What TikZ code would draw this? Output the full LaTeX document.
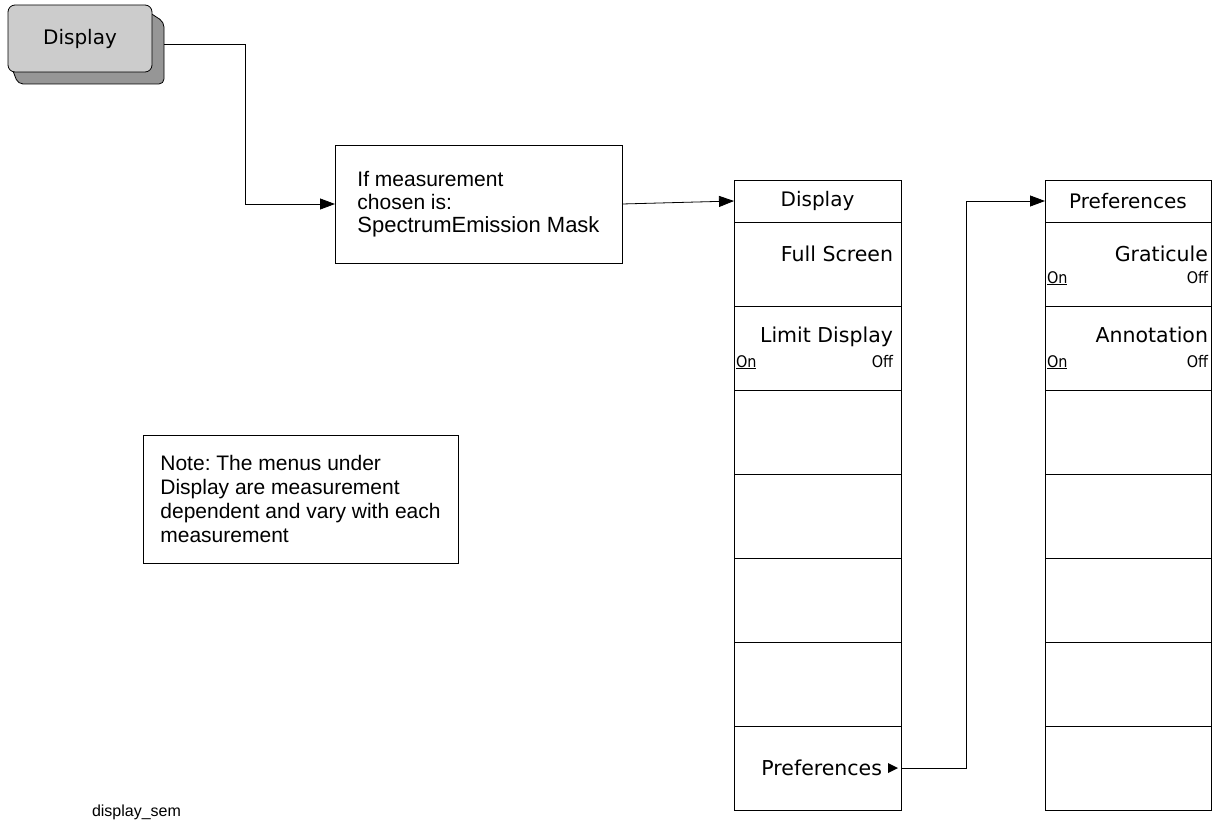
\documentclass[tikz,border=0pt]{standalone}
\usepackage{fontspec}
\setmainfont{Liberation Sans}
\newfontfamily\menufont{DejaVu Sans}
\newfontfamily\statefont{DejaVu Sans Condensed}
\usetikzlibrary{positioning,calc,arrows.meta}
\definecolor{keyface}{RGB}{204,204,204}
\definecolor{keyside}{RGB}{150,150,150}
\frenchspacing

\begin{document}
\begin{tikzpicture}[
    x=1pt, y=-1pt,
    every node/.style={inner sep=0pt, outer sep=0pt},
    hardkey/.style={rectangle, rounded corners=7pt, draw=black, fill=keyface, line width=0.8pt, minimum width=144pt, minimum height=67pt, font=\menufont\fontsize{20}{24}\selectfont},
    textbox/.style={rectangle, draw=black, line width=0.8pt, align=left, font=\fontsize{21}{23}\selectfont},
    menutitle/.style={rectangle, draw=black, line width=0.8pt, minimum width=167pt, minimum height=42pt, font=\menufont\fontsize{20}{24}\selectfont},
    softkey/.style={rectangle, draw=black, line width=0.8pt, minimum width=167pt, minimum height=84pt},
    keylabel/.style={anchor=base east, font=\menufont\fontsize{20.5}{24}\selectfont},
    stateon/.style={anchor=base west, font=\statefont\fontsize{16}{18}\selectfont},
    stateoff/.style={anchor=base east, font=\statefont\fontsize{16}{18}\selectfont},
    arrow/.style={line width=0.8pt, -{Triangle[length=15pt,width=11pt]}}
]
\useasboundingbox (0,0) rectangle (1212,824);

% Front panel key
\filldraw[fill=keyside, draw=black, line width=0.8pt, rounded corners=5pt] (138,5) -- (164,22) -- (164,84) -- (18,84) -- (8,58) -- cycle;
\node[hardkey] (key) at (80,38.5) {Display};

% Condition and note
\node[textbox, minimum width=287pt, minimum height=118pt] (cond) at (478.5,204) {If measurement\\chosen is:\\{\fontsize{22}{23}\selectfont SpectrumEmission Mask}};
\node[textbox, minimum width=315pt, minimum height=128pt, font=\fontsize{21}{24}\selectfont] (note) at (300.5,499) {Note: The menus under\\Display are measurement\\dependent and vary with each\\measurement};
\node[anchor=base west, font=\fontsize{16}{18}\selectfont] (figname) at (92,816) {display\_sem};

% Display menu
\node[menutitle] (dtitle) at (817.5,201) {Display};
\node[softkey, below=0pt of dtitle] (dfull) {};
\node[softkey, below=0pt of dfull] (dlimit) {};
\node[softkey, below=0pt of dlimit] (dblanka) {};
\node[softkey, below=0pt of dblanka] (dblankb) {};
\node[softkey, below=0pt of dblankb] (dblankc) {};
\node[softkey, below=0pt of dblankc] (dblankd) {};
\node[softkey, below=0pt of dblankd] (dpref) {};

\node[keylabel] (fulltext) at ($(dfull.north east)+(-8,39)$) {Full Screen};
\node[keylabel] (limittext) at ($(dlimit.north east)+(-8,36)$) {Limit Display};
\node[stateon] (limiton) at ($(dlimit.north west)+(2,61)$) {\underline{On}};
\node[stateoff] (limitoff) at ($(dlimit.north east)+(-8,61)$) {Off};
\node[keylabel] (preftext) at ($(dpref.north east)+(-19,49)$) {Preferences};
\fill ($(dpref.east)+(-13,-5)$) -- ($(dpref.east)+(-3,0)$) -- ($(dpref.east)+(-13,5)$) -- cycle;

% Preferences menu
\node[menutitle, minimum width=166pt, right=144pt of dtitle] (ptitle) {Preferences};
\node[softkey, minimum width=166pt, below=0pt of ptitle] (pgrat) {};
\node[softkey, minimum width=166pt, below=0pt of pgrat] (pannot) {};
\node[softkey, minimum width=166pt, below=0pt of pannot] (pblanka) {};
\node[softkey, minimum width=166pt, below=0pt of pblanka] (pblankb) {};
\node[softkey, minimum width=166pt, below=0pt of pblankb] (pblankc) {};
\node[softkey, minimum width=166pt, below=0pt of pblankc] (pblankd) {};
\node[softkey, minimum width=166pt, below=0pt of pblankd] (pblanke) {};

\node[keylabel] (grattext) at ($(pgrat.north east)+(-3,39)$) {Graticule};
\node[stateon] (graton) at ($(pgrat.north west)+(2,61)$) {\underline{On}};
\node[stateoff] (gratoff) at ($(pgrat.north east)+(-3,61)$) {Off};
\node[keylabel] (annottext) at ($(pannot.north east)+(-3,36)$) {Annotation};
\node[stateon] (annoton) at ($(pannot.north west)+(2,61)$) {\underline{On}};
\node[stateoff] (annotoff) at ($(pannot.north east)+(-3,61)$) {Off};

% Connections
\draw[arrow] ($(key.east)+(12,6)$) -| ([xshift=-90pt]cond.west) -- (cond.west);
\draw[arrow] (cond.east) -- (dtitle.west);
\draw[arrow] (dpref.east) -- ++(65,0) |- (ptitle.west);

\end{tikzpicture}
\end{document}
